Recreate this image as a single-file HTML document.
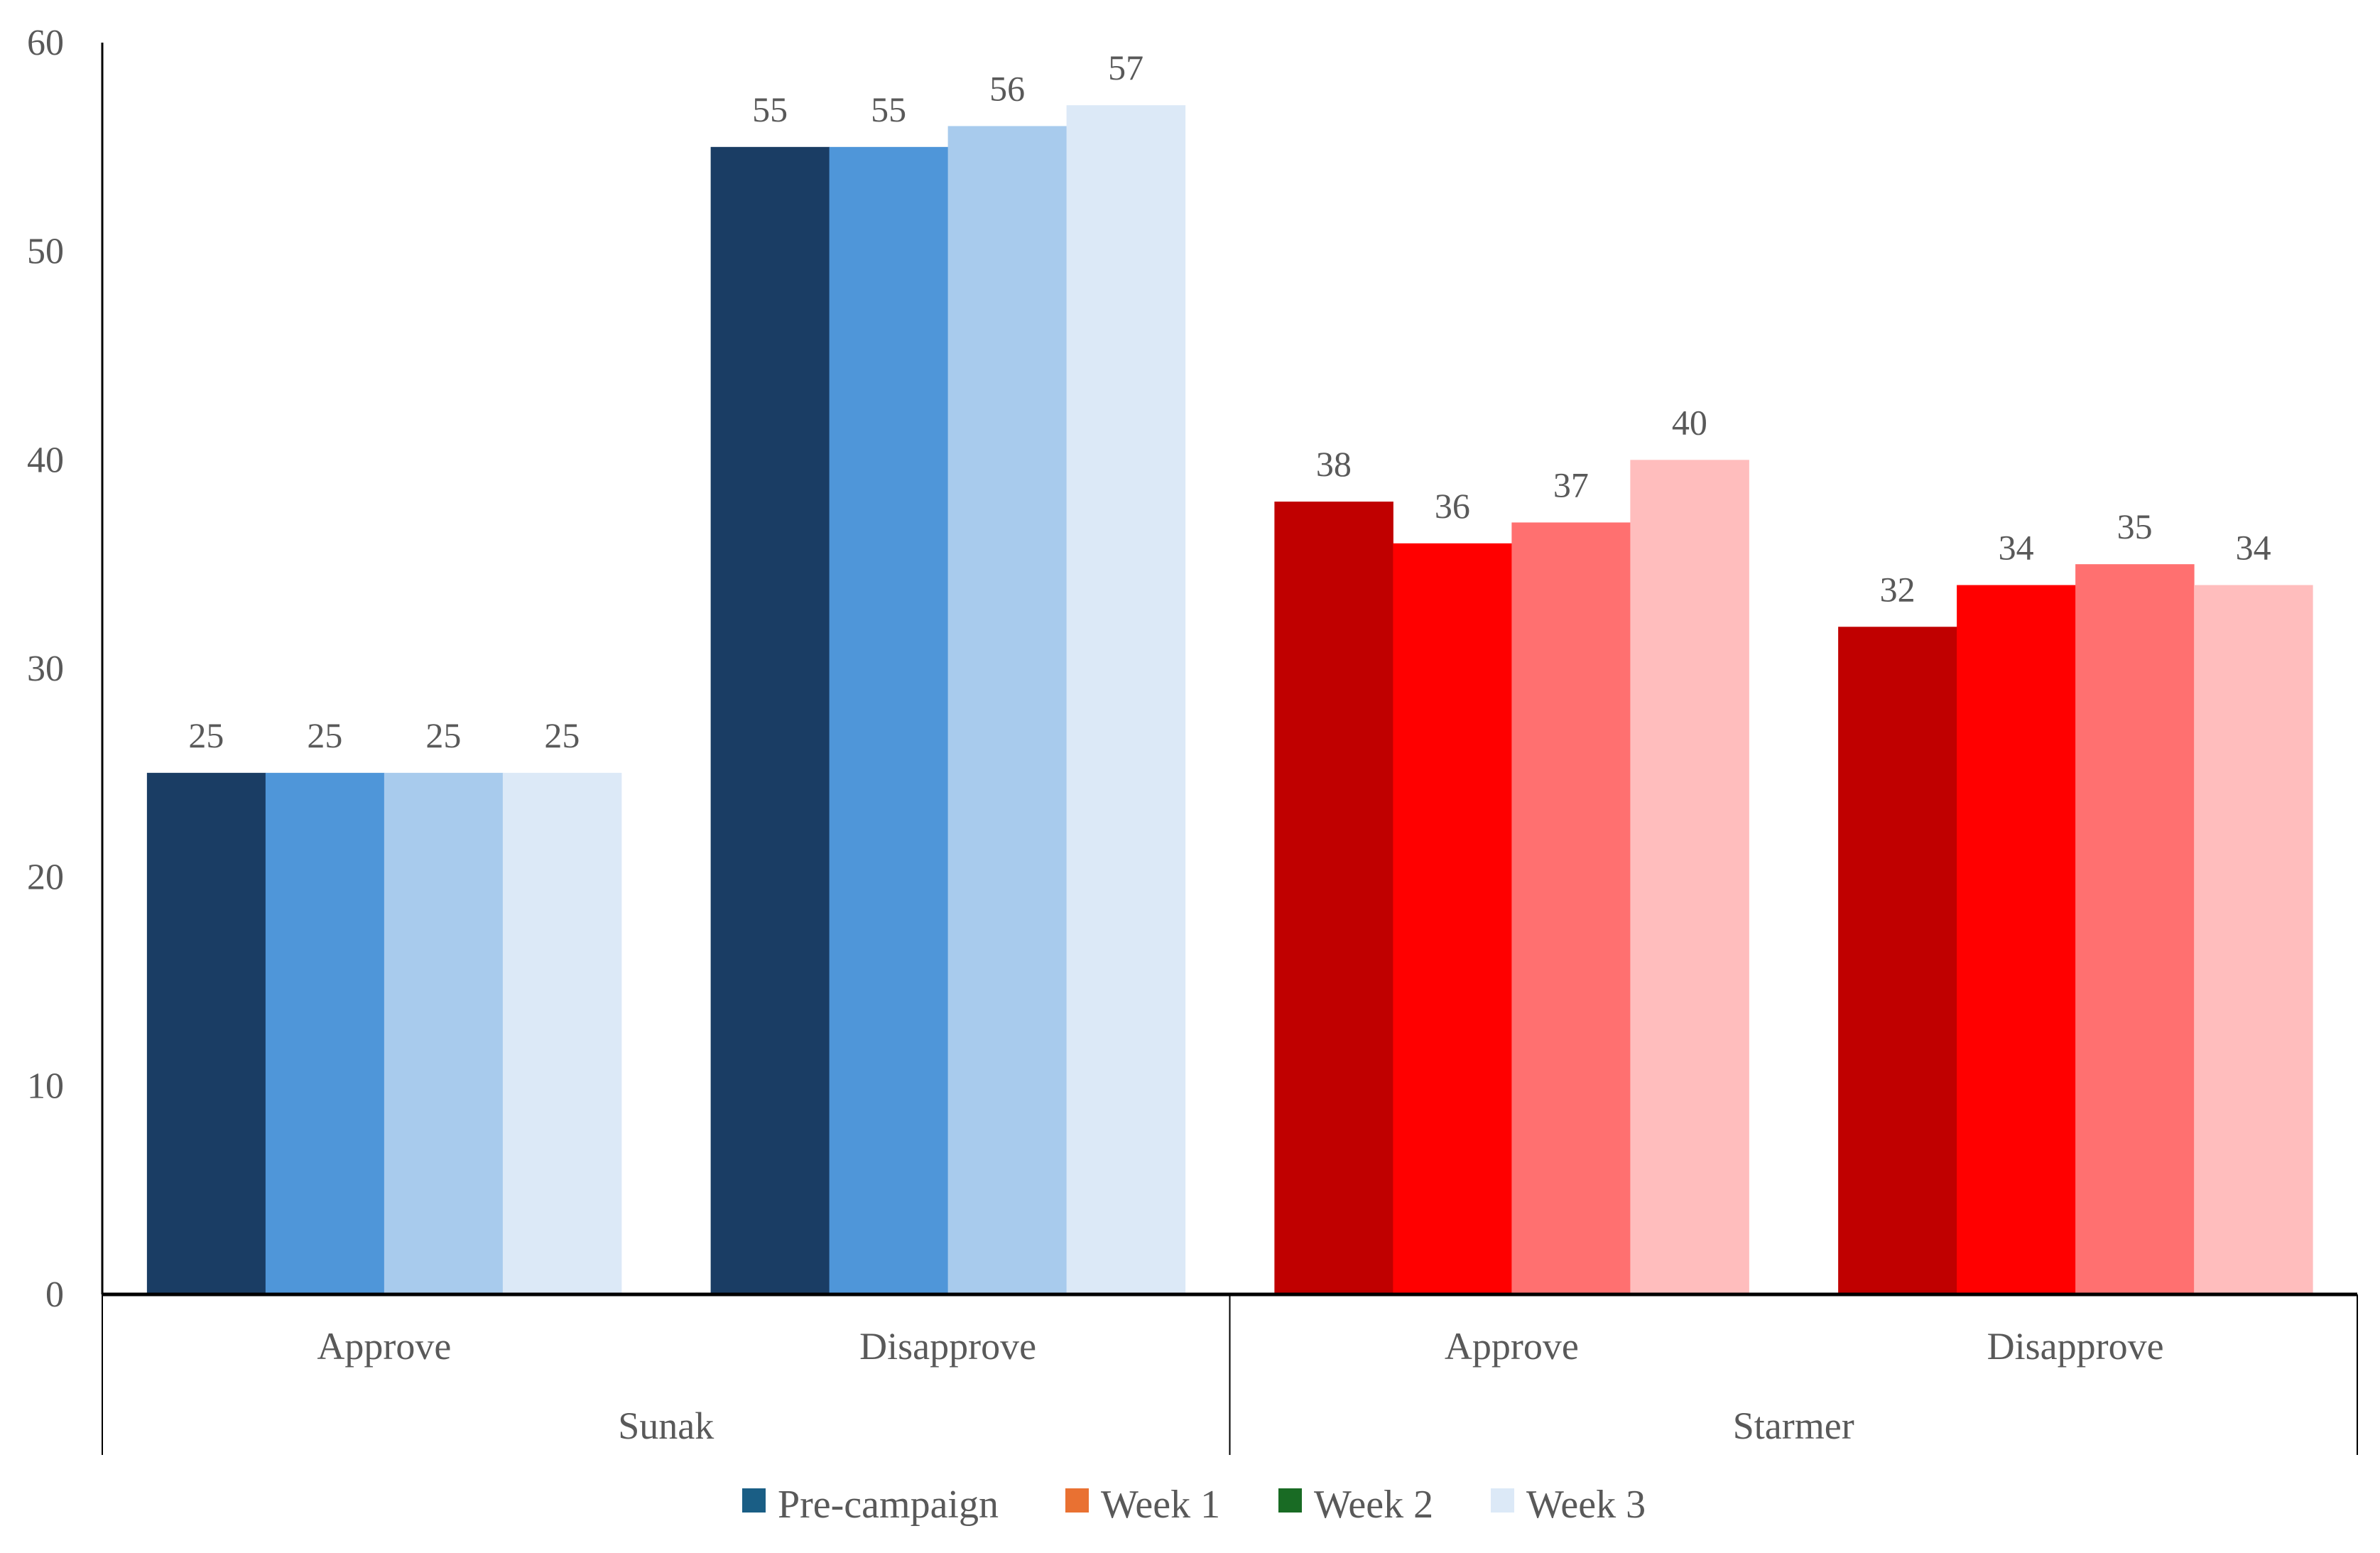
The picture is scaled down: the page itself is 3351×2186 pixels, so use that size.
<!DOCTYPE html>
<html><head><meta charset="utf-8"><style>
html,body{margin:0;padding:0;background:#fff;}
svg{display:block;}
text{font-family:"Liberation Serif",serif;fill:#595959;}
</style></head><body>
<svg id="chart" width="3351" height="2186" viewBox="0 0 3351 2186" xmlns="http://www.w3.org/2000/svg">
<g id="bars"></g>
<g id="axes"></g>
<g id="legend"></g>
</svg>
<script>
const categories = ["Approve","Disapprove","Approve","Disapprove"];
const groups = ["Sunak","Starmer"];
const seriesNames = ["Pre-campaign","Week 1","Week 2","Week 3"];
const preCampaign = [25,55,38,32];
const week1 = [25,55,36,34];
const week2 = [25,56,37,35];
const week3 = [25,57,40,34];
const yTicks = [0,10,20,30,40,50,60];

const series=[preCampaign,week1,week2,week3];
const blueColors=["#1a3d64","#4f96d9","#a8cbed","#dce9f7"];
const redColors=["#c00000","#ff0000","#ff7070","#ffbdbd"];
const legendColors=["#1a5e85","#e97132","#196b24","#dce9f7"];
const NS="http://www.w3.org/2000/svg";
const X0=144,X1=3319,Y0=1822,YTOP=60,YMAX=60;
const band=(X1-X0)/categories.length;
const barW=167,pad=(band-4*barW)/2;
function y(v){return Y0-(v/YMAX)*(Y0-YTOP);}
function xBar(c,s){return X0+c*band+pad+s*barW;}
function mk(tag,attrs,parent){const e=document.createElementNS(NS,tag);for(const k in attrs)e.setAttribute(k,attrs[k]);parent.appendChild(e);return e;}
const gb=document.getElementById('bars'),ga=document.getElementById('axes'),gl=document.getElementById('legend');

series.forEach((vals,s)=>{vals.forEach((v,c)=>{
  const col=(c<2?blueColors:redColors)[s];
  const r=mk('rect',{x:xBar(c,s),y:y(v),width:barW+0.5,height:Y0-y(v),fill:col},gb);
  
  
  const t=mk('text',{x:xBar(c,s)+barW/2,y:y(v)-36,'text-anchor':'middle','font-size':50},gb);
  t.textContent=v;
  
  
});});

yTicks.forEach(v=>{
  const t=mk('text',{x:90,y:y(v)+17,'text-anchor':'end','font-size':52},ga);
  t.textContent=v;
  
  
});
const ax=mk('line',{x1:X0,y1:YTOP,x2:X0,y2:Y0,stroke:'#000','stroke-width':3},ga);


const zl=mk('line',{x1:X0,y1:Y0,x2:X1,y2:Y0,stroke:'#000','stroke-width':5},ga);


[X0,(X0+X1)/2,X1].forEach(xx=>{
  const l=mk('line',{x1:xx,y1:Y0,x2:xx,y2:2048,stroke:'#000','stroke-width':2},ga);
  
  
});
categories.forEach((c,i)=>{
  const t=mk('text',{x:X0+band*(i+0.5),y:1913,'text-anchor':'middle','font-size':54},ga);
  t.textContent=c;
  
  
});
groups.forEach((g,i)=>{
  const t=mk('text',{x:X0+band*(2*i+1),y:2025,'text-anchor':'middle','font-size':54},ga);
  t.textContent=g;
  
  
});
const lx=[1045,1500,1800,2099];
seriesNames.forEach((n,i)=>{
  const r=mk('rect',{x:lx[i],y:2095,width:33,height:34,fill:legendColors[i]},gl);
  
  
  const t=mk('text',{x:lx[i]+50,y:2136,'font-size':56},gl);
  t.textContent=n;
  
  
});
</script>
</body></html>
